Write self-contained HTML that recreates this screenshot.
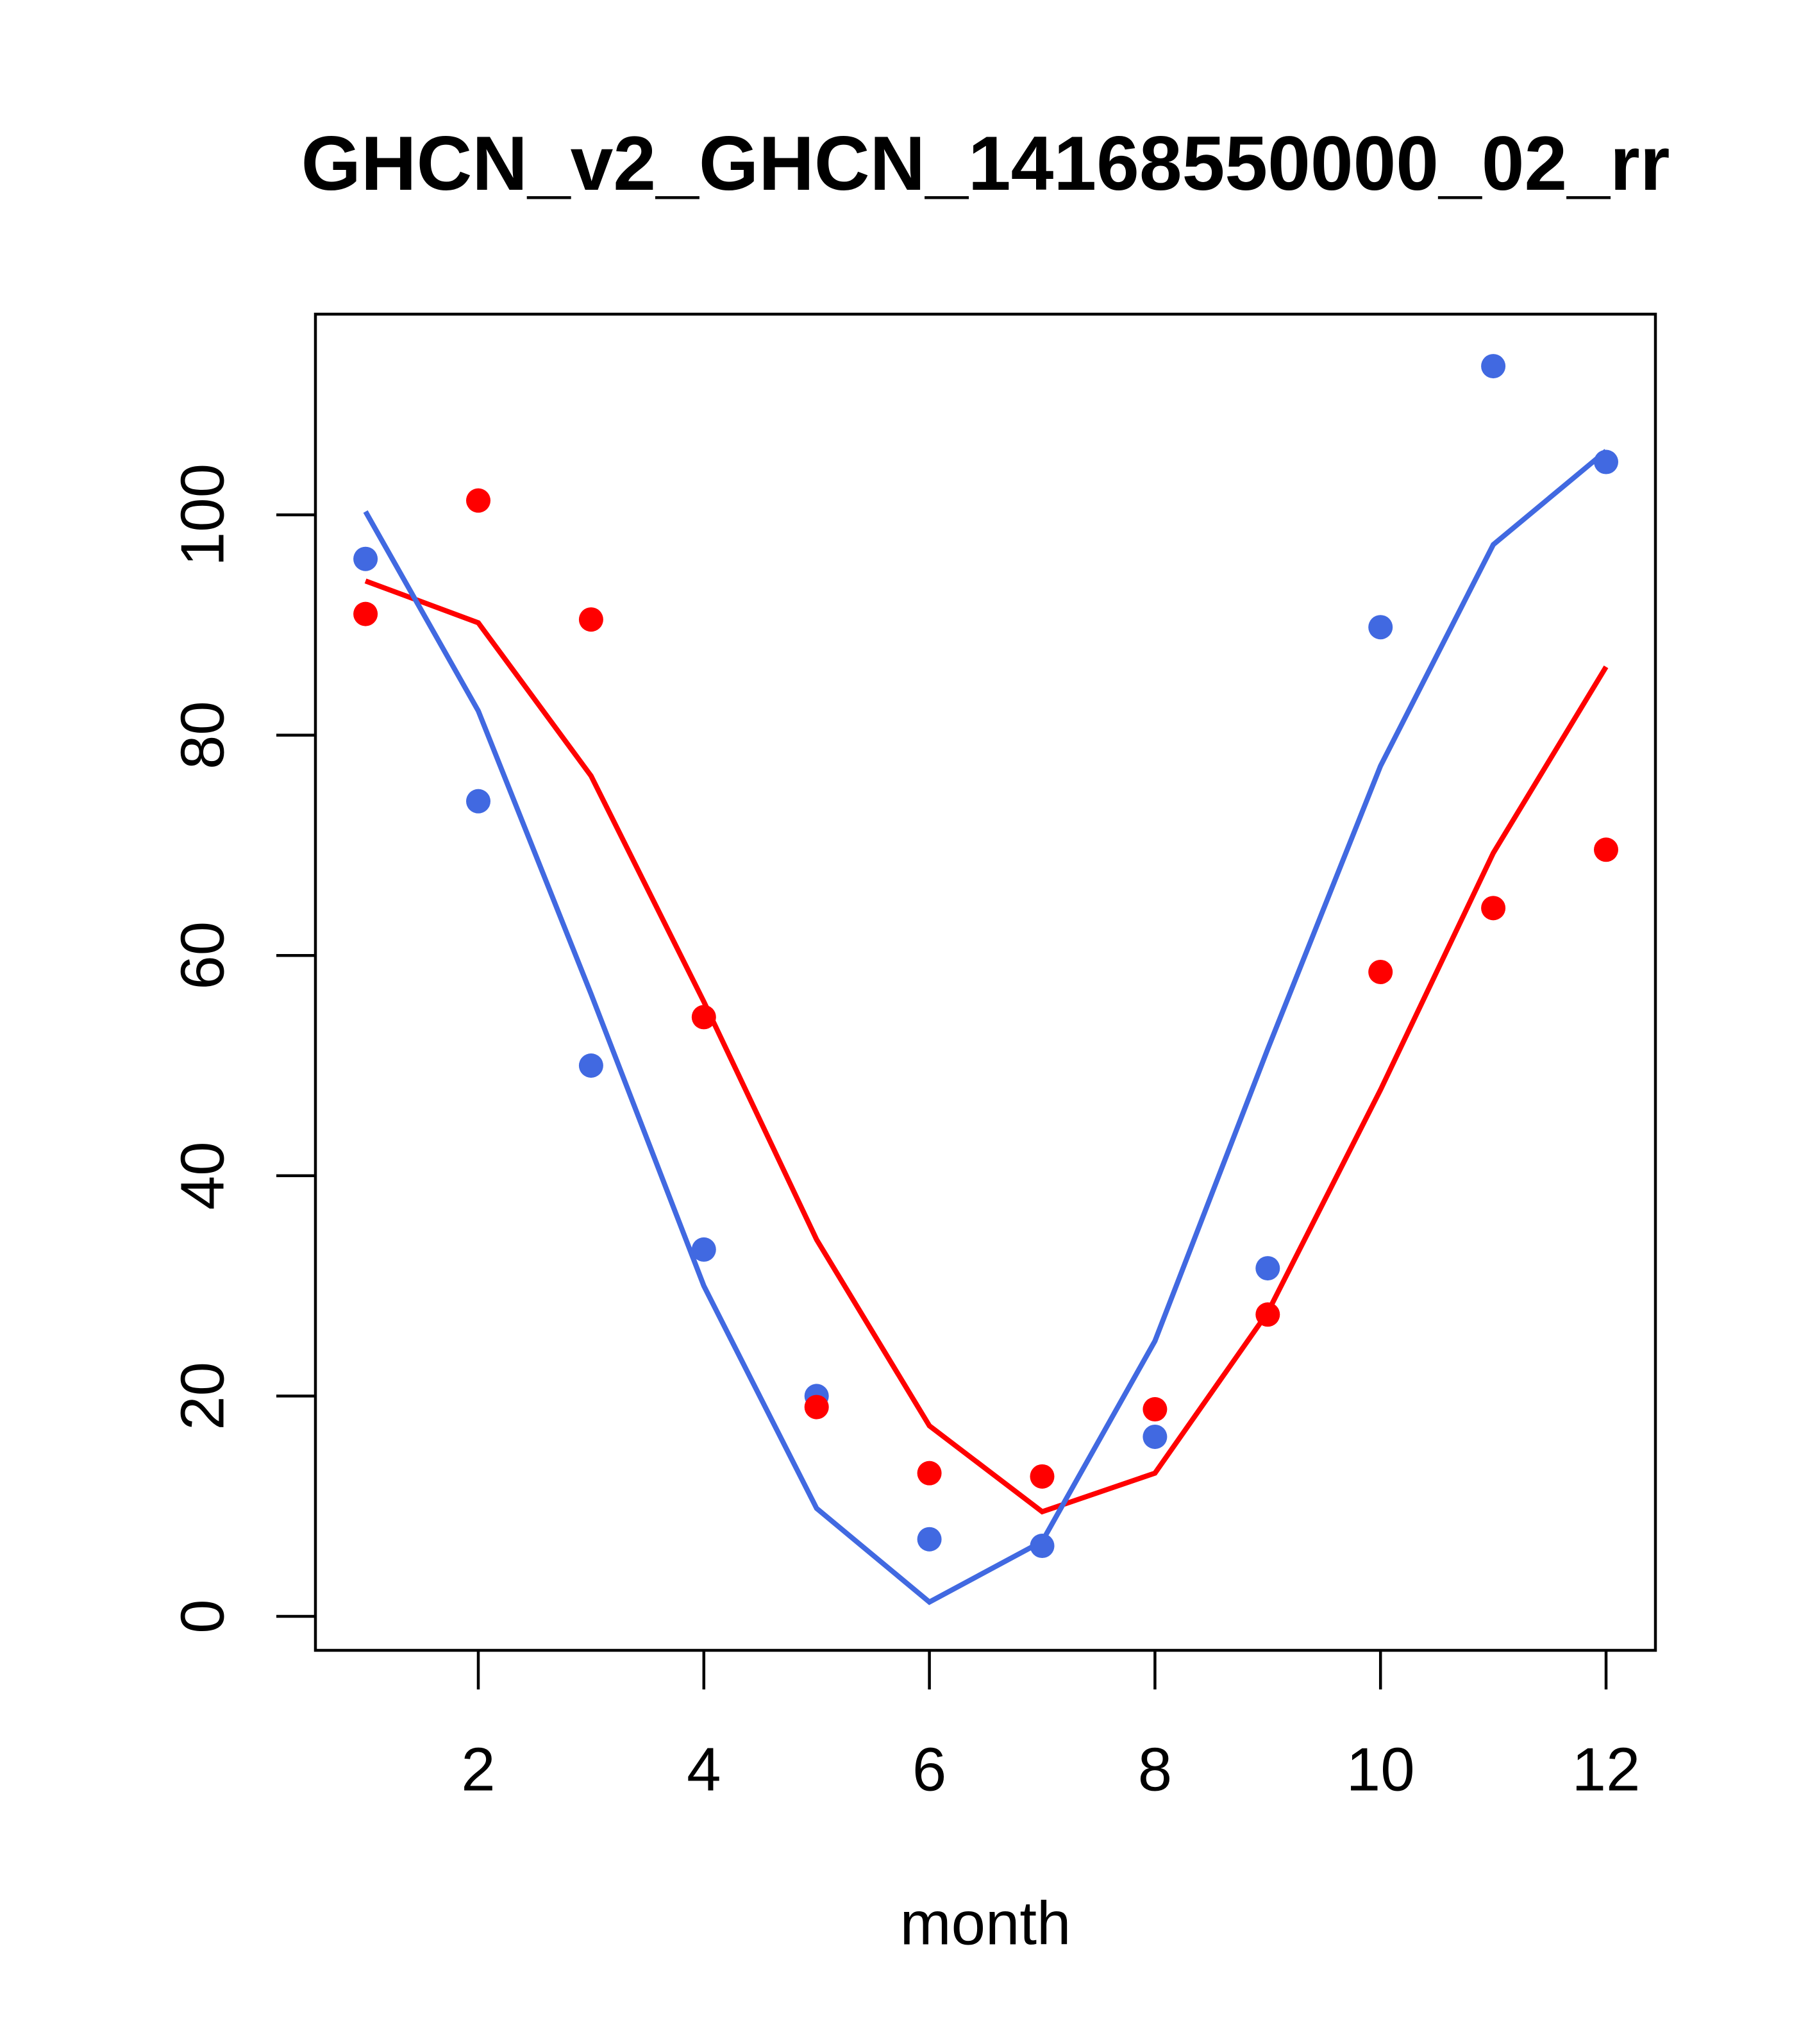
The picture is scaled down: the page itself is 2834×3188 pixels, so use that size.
<!DOCTYPE html>
<html><head><meta charset="utf-8"><style>
html,body{margin:0;padding:0;background:#fff;}
svg{display:block;font-family:"Liberation Sans",Arial,sans-serif;}
</style></head><body>
<svg id="chart" width="2834" height="3188" viewBox="0 0 2834 3188" xmlns="http://www.w3.org/2000/svg">
<rect width="2834" height="3188" fill="#fff"/>
<text x="1537" y="254" dy="0.35em" text-anchor="middle" font-size="120" font-weight="bold">GHCN_v2_GHCN_14168550000_02_rr</text>
<rect x="492" y="490" width="2090" height="2084" fill="none" stroke="#000" stroke-width="4.5"/>
<text x="1537" y="2999" dy="0.35em" text-anchor="middle" font-size="96">month</text>
<g id="axes"></g>
<g id="series"></g>
</svg>
<script>
const months=[1,2,3,4,5,6,7,8,9,10,11,12];
const bluePoints=[96,74,50,33.3,20,7,6.4,16.3,31.6,89.8,113.5,104.8];
const redPoints=[91,101.3,90.5,54.4,19,13,12.7,18.8,27.4,58.5,64.3,69.6];
const blueLine=[100.3,82.2,56.5,30,9.8,1.3,6.8,25,51.5,77.2,97.3,105.8];
const redLine=[94,90.2,76.3,55.8,34.2,17.3,9.5,13,27.6,47.8,69.3,86.2];
const xTicks=[2,4,6,8,10,12];
const yTicks=[0,20,40,60,80,100];
const NS="http://www.w3.org/2000/svg";
function xs(m){return 746+(m-2)*175.9;}
function ys(v){return 2521-v*17.18;}
function mk(tag,attrs,parent){const e=document.createElementNS(NS,tag);for(const k in attrs)e.setAttribute(k,attrs[k]);parent.appendChild(e);return e;}
const axes=document.getElementById('axes'),series=document.getElementById('series');
xTicks.forEach(t=>{
 const l=mk('line',{x1:xs(t),x2:xs(t),y1:2574,y2:2635,stroke:'#000','stroke-width':4.5},axes);
 
 
 const tx=mk('text',{x:xs(t),y:2759,dy:'0.35em','text-anchor':'middle','font-size':96},axes);
 tx.textContent=t;
 
 
});
yTicks.forEach(t=>{
 const l=mk('line',{x1:431,x2:492,y1:ys(t),y2:ys(t),stroke:'#000','stroke-width':4.5},axes);
 
 
 const tx=mk('text',{x:0,y:0,dy:'0.35em','text-anchor':'middle','font-size':96,transform:`translate(315,${ys(t)}) rotate(-90)`},axes);
 tx.textContent=t;
 
 
});
function line(vals,col,name){
 const p=mk('polyline',{points:months.map((m,i)=>xs(m)+','+ys(vals[i])).join(' '),fill:'none',stroke:col,'stroke-width':8},series);
 
 
}
function pts(vals,col,name){
 months.forEach((m,i)=>{
  const c=mk('circle',{cx:xs(m),cy:ys(vals[i]),r:19,fill:col},series);
  
  
 });
}
line(redLine,'#ff0000','red-line');
line(blueLine,'#4169e1','blue-line');
pts(bluePoints,'#4169e1','blue-point');
pts(redPoints,'#ff0000','red-point');
</script>
</body></html>
